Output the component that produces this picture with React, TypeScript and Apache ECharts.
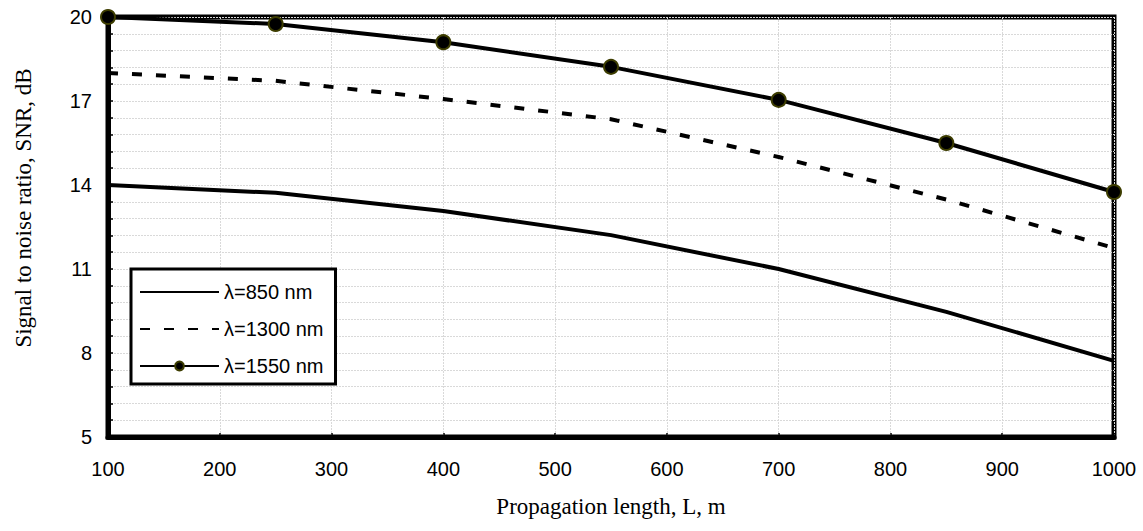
import React, { useEffect, useRef } from "react";
import * as echarts from "echarts";

const lengths = [100, 250, 400, 550, 700, 850, 1000];
const snr850 = [14.0, 13.72, 13.07, 12.21, 11.0, 9.47, 7.72];
const snr1300 = [18.0, 17.72, 17.07, 16.35, 15.0, 13.48, 11.75];
const snr1550 = [20.0, 19.75, 19.1, 18.22, 17.04, 15.5, 13.75];
const seriesNames = ["λ=850 nm", "λ=1300 nm", "λ=1550 nm"];
const xTitle = "Propagation length, L, m";
const yTitle = "Signal to noise ratio, SNR, dB";

const pairs = (ys: number[]) => lengths.map((x, i) => [x, ys[i]]);

export default function App() {
  const ref = useRef<HTMLDivElement>(null);
  useEffect(() => {
    if (!ref.current) return;
    const chart = echarts.init(ref.current, null, { renderer: "svg" });
    const gridLine = { show: true, lineStyle: { color: "#d9d9d9", width: 1, type: [2, 1] as any } };
    const sans = "Arial, 'Liberation Sans', sans-serif";
    const serif = "'Times New Roman', 'Liberation Serif', serif";
    chart.setOption({
      animation: false,
      backgroundColor: "#ffffff",
      grid: {
        left: 108,
        right: 29,
        top: 17,
        bottom: 94,
        show: true,
        borderWidth: 5,
        borderColor: "#000",
        backgroundColor: "#fff",
      },
      graphic: [
        {
          type: "text",
          x: 23,
          y: 208,
          rotation: Math.PI / 2,
          style: {
            text: yTitle,
            fontFamily: serif,
            fontSize: 23,
            fill: "#000",
            align: "center",
            verticalAlign: "middle",
          },
        },
      ],
      legend: {
        left: 131,
        top: 269,
        orient: "vertical",
        data: [
          { name: seriesNames[0], itemStyle: { opacity: 0 } },
          { name: seriesNames[1], itemStyle: { opacity: 0 } },
          { name: seriesNames[2] },
        ],
        itemWidth: 79,
        itemHeight: 11,
        itemGap: 17,
        padding: [13, 12, 8, 8],
        borderColor: "#000",
        borderWidth: 3,
        backgroundColor: "#fff",
        textStyle: { fontFamily: sans, fontSize: 20, color: "#000" },
      },
      xAxis: {
        type: "value",
        min: 100,
        max: 1000,
        interval: 100,
        name: xTitle,
        nameLocation: "middle",
        nameGap: 58,
        nameTextStyle: { fontFamily: serif, fontSize: 23, color: "#000" },
        axisLine: { show: true, lineStyle: { color: "#000", width: 5 } },
        axisTick: { show: true, inside: true, length: 4, lineStyle: { color: "#000", width: 1.5 } },
        axisLabel: {
          margin: 22,
          fontFamily: sans,
          fontSize: 20,
          color: "#000",
          formatter: (v: number) => String(v),
        },
        splitLine: gridLine,
      },
      yAxis: {
        type: "value",
        min: 5,
        max: 20,
        interval: 3,
        axisLine: { show: true, lineStyle: { color: "#000", width: 5 } },
        axisTick: { show: true, inside: true, length: 5, lineStyle: { color: "#000", width: 1.5 } },
        minorTick: { show: true, splitNumber: 5, length: 5, lineStyle: { color: "#000", width: 1.5 } },
        axisLabel: {
          margin: 16,
          fontFamily: sans,
          fontSize: 20,
          color: "#000",
          formatter: (v: number) => String(v),
        },
        splitLine: gridLine,
        minorSplitLine: gridLine,
      },
      series: [
        {
          name: seriesNames[0],
          type: "line",
          data: pairs(snr850),
          symbol: "none",
          lineStyle: { color: "#000", width: 4 },
          itemStyle: { color: "#000" },
        },
        {
          name: seriesNames[1],
          type: "line",
          data: pairs(snr1300),
          symbol: "none",
          lineStyle: { color: "#000", width: 4, type: [10, 14] },
          itemStyle: { color: "#000" },
        },
        {
          name: seriesNames[2],
          type: "line",
          data: pairs(snr1550),
          symbol: "circle",
          symbolSize: 14,
          lineStyle: { color: "#000", width: 4 },
          itemStyle: { color: "#000", borderColor: "#3d3d00", borderWidth: 2 },
          z: 5,
        },
      ],
    });
    return () => chart.dispose();
  }, []);
  return (
    <div
      ref={ref}
      style={{ position: "fixed", left: 0, top: 0, width: 1143, height: 531 }}
    />
  );
}
